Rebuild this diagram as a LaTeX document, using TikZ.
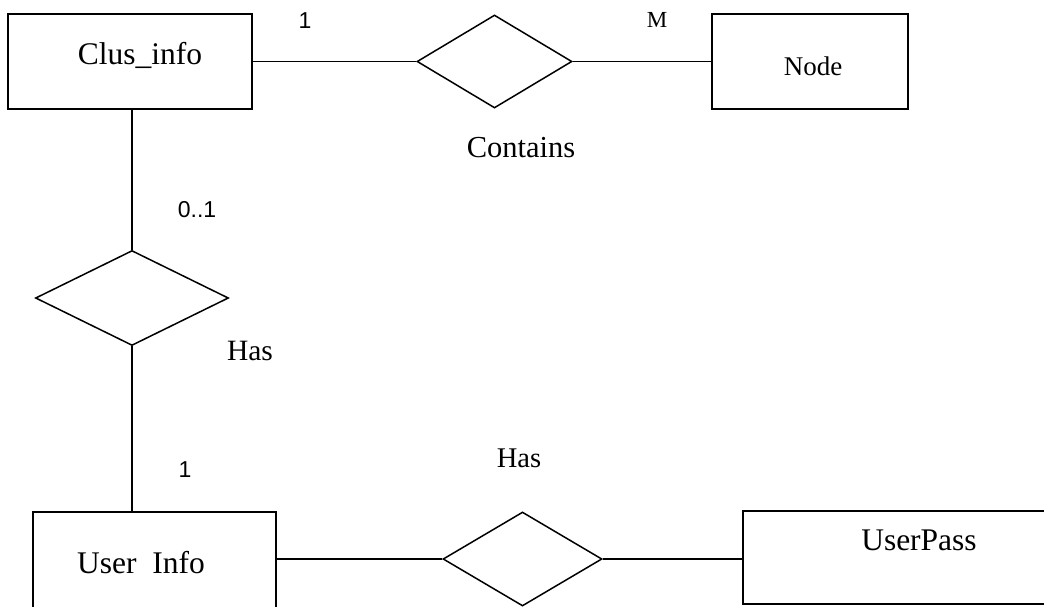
\documentclass[tikz,border=0pt]{standalone}
\usepackage{fontspec}
\setmainfont{Liberation Serif}
\newfontfamily\digitfont{Liberation Sans}
\usetikzlibrary{shapes.geometric}
\begin{document}
\begin{tikzpicture}[x=1pt,y=-1pt,line width=1.5pt,
  entity/.style={draw,rectangle,inner sep=0pt},
  relation/.style={draw,diamond,inner sep=0pt},
  lbl/.style={anchor=base,inner sep=0pt,font=\fontsize{31.5}{36}\selectfont},
  card/.style={inner sep=0pt,font=\digitfont\fontsize{23}{27}\selectfont}]
\useasboundingbox (0,0) rectangle (1044,606);
\clip (0,0) rectangle (1044,606);
% entities
\node[entity,minimum width=244pt,minimum height=95pt] (clus) at (130,61.5) {};
\node[entity,minimum width=196pt,minimum height=95pt] (nodebox) at (810,61.5) {};
\node[entity,minimum width=243pt,minimum height=120pt] (user) at (154.5,572) {};
\node[entity,minimum width=317pt,minimum height=93pt] (pass) at (901.5,557.5) {};
% relationships
\node[relation,minimum width=155pt,minimum height=93pt] (contains) at (494.5,61.5) {};
\node[relation,minimum width=193pt,minimum height=95pt] (hasL) at (132,298) {};
\node[relation,minimum width=159pt,minimum height=94pt] (hasB) at (522.5,559) {};
% connectors
\draw (clus.east) -- (contains.west);
\draw (contains.east) -- (nodebox.west);
\draw (hasL.north) -- (hasL.north |- clus.south);
\draw (hasL.south) -- (hasL.south |- user.north);
\draw (hasB.west) -- (hasB.west -| user.east);
\draw (hasB.east) -- (hasB.east -| pass.west);
% texts
\node[lbl] (tclus) at (140,64) {Clus\_info};
\node[lbl,font=\fontsize{27}{32}\selectfont] (tnode) at (813,75) {Node};
\node[lbl,font=\fontsize{30.5}{36}\selectfont] (tcont) at (521,157) {Contains};
\node[lbl,font=\fontsize{29.5}{34}\selectfont] (thasL) at (250,360) {Has};
\node[lbl,font=\fontsize{28.5}{34}\selectfont] (thasB) at (519,467) {Has};
\node[lbl] (tuser) at (141,573) {User\ \ Info};
\node[lbl] (tpass) at (919,550) {UserPass};
% cardinalities
\node[card] (c1) at (305,21) {1};
\node[inner sep=0pt,font=\fontsize{23}{27}\selectfont] (cM) at (657,20) {M};
\node[card] (c01) at (197,210) {0..1};
\node[card] (c1b) at (185,470) {1};
\end{tikzpicture}
\end{document}
